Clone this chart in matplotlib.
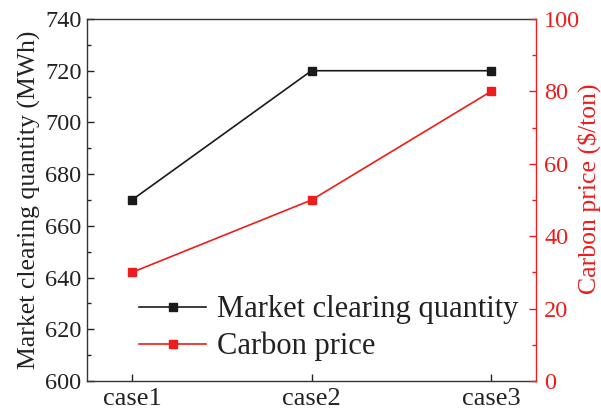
import matplotlib
matplotlib.use("Agg")
import matplotlib.pyplot as plt
from matplotlib.ticker import MultipleLocator

plt.rcParams['font.family'] = ['Liberation Serif', 'DejaVu Serif']
plt.rcParams['mathtext.fontset'] = 'stix'

cases = ["case1", "case2", "case3"]
quantity = [670, 720, 720]          # MWh
carbon_price = [30, 50, 80]         # $/ton

red = "#ee1c1c"
dark = "#222222"

fig = plt.figure(figsize=(6.01, 4.15), dpi=100)
ax = fig.add_axes([87/601, 1 - 381/415, (536-87)/601, (381-19)/415])
ax2 = ax.twinx()

x = [1, 2, 3]
l1, = ax.plot(x, quantity, color="#1a1a1a", lw=1.2, marker="s", ms=5.5,
              label="Market clearing quantity")
l2, = ax2.plot(x, carbon_price, color=red, lw=1.2, marker="s", ms=5.5,
               label="Carbon price")

ax.set_xlim(0.75, 3.25)
ax.set_xticks(x)
ax.set_xticklabels(cases)
ax.set_ylim(600, 740)
ax.yaxis.set_major_locator(MultipleLocator(20))
ax.yaxis.set_minor_locator(MultipleLocator(10))
ax2.set_ylim(0, 100)
ax2.yaxis.set_major_locator(MultipleLocator(20))
ax2.yaxis.set_minor_locator(MultipleLocator(10))

ax.set_ylabel("Market clearing quantity (MWh)", fontsize=18.5, labelpad=3,
              color=dark)
ax2.set_ylabel("Carbon price (\\$/ton)", fontsize=18.5, color=red)
ax2.yaxis.set_label_coords(1.092, 0.53)

ax.tick_params(axis="y", which="major", direction="in", length=5, width=1,
               labelsize=17.5, colors=dark, pad=4)
ax.tick_params(axis="y", which="minor", direction="in", length=3, width=1,
               colors=dark)
ax.tick_params(axis="x", direction="in", length=5, width=1, labelsize=19,
               colors=dark, pad=5)
ax2.tick_params(axis="y", which="major", direction="in", length=5, width=1,
                labelsize=17.5, colors=red, pad=6)
ax2.tick_params(axis="y", which="minor", direction="in", length=3, width=1,
                colors=red)

for s in ["left", "top", "bottom"]:
    ax.spines[s].set_color("#333333")
    ax.spines[s].set_linewidth(1.0)
ax2.spines["right"].set_color(red)
ax2.spines["right"].set_linewidth(1.0)
for s in ["left", "top", "bottom"]:
    ax2.spines[s].set_visible(False)
ax.spines["right"].set_visible(False)

leg = ax.legend([l1, l2], [l1.get_label(), l2.get_label()],
                loc="lower left", bbox_to_anchor=(0.055, -0.022),
                frameon=False, fontsize=22, handlelength=2.2,
                handletextpad=0.35, labelspacing=0.25, borderpad=0.4)
for t in leg.get_texts():
    t.set_color(dark)

fig.savefig("out.png", dpi=100)
